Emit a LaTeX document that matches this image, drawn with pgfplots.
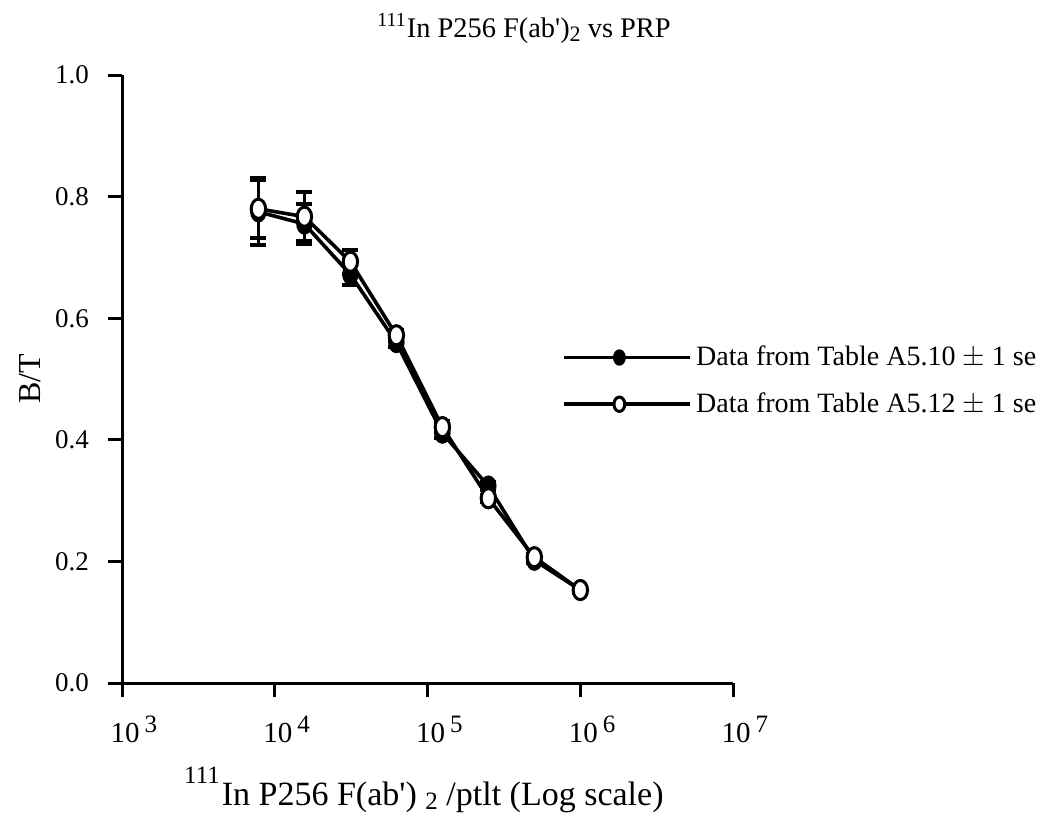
\documentclass[border=0pt]{standalone}
\usepackage{pgfplots}
\pgfplotsset{compat=1.18}
\usepackage{fontspec}
\setmainfont{Liberation Serif}
\newcommand{\tl}[1]{10\rlap{\hspace{2.5pt}\raisebox{5pt}{\fontsize{12.5}{13}\selectfont #1}}}

\begin{document}
\begin{tikzpicture}
\begin{axis}[
  scale only axis,
  width=305.5pt, height=304pt,
  xmode=log,
  xmin=1e3, xmax=1e7,
  ymin=0, ymax=1,
  axis x line=bottom, axis y line=left,
  axis line style={-, line width=1.5pt},
  tick align=outside,
  major tick length=7pt,
  every tick/.style={line width=1.5pt, black},
  xminorticks=false, yminorticks=false,
  xtick={1e3,1e4,1e5,1e6,1e7},
  xticklabels={\tl{3},\tl{4},\tl{5},\tl{6},\tl{7}},
  xticklabel style={font=\fontsize{14.5}{16}\selectfont, xshift=1.5pt, yshift=-6pt},
  ytick={0,0.2,0.4,0.6,0.8,1.0},
  yticklabels={0.0,0.2,0.4,0.6,0.8,1.0},
  yticklabel style={font=\fontsize{13.5}{16}\selectfont, xshift=-6pt},
  clip=false,
  legend style={at={(rel axis cs:0.7105,0.497)}, anchor=west, draw=none, fill=none,
    font=\fontsize{14}{16}\selectfont, row sep=8pt},
  legend cell align=left,
  legend image code/.code={
    \path (0pt,0pt) -- (63pt,0pt);
    \draw[mark repeat=2,mark phase=2,#1, line width=1.1pt, mark size=3pt] plot coordinates {(0pt,0pt) (27.5pt,0pt) (51.5pt,0pt)};},
]
\addplot+[black, line width=1.8pt, mark=*, mark size=4pt,
  mark options={solid, fill=black, line width=1pt, xscale=0.9, yscale=1.2},
  error bars/.cd, y dir=both, y explicit,
  error bar style={line width=1.5pt, black},
  error mark options={rotate=90, mark size=4pt, line width=2pt, black}]
  coordinates {
  (7812.5,0.775) +- (0,0.055)
  (15625,0.755) +- (0,0.033)
  (31250,0.672) +- (0,0.018)
  (62500,0.560) +- (0,0.008)
  (125000,0.411) +- (0,0.008)
  (250000,0.324) +- (0,0.006)
  (500000,0.202) +- (0,0.005)
  (1000000,0.153) +- (0,0.005)
  };
\addlegendentry{Data from Table A5.10 $\pm$ 1 se}
\addplot+[black, line width=1.8pt, mark=*, mark size=4pt,
  mark options={solid, fill=white, line width=1.5pt, xscale=0.9, yscale=1.2},
  error bars/.cd, y dir=both, y explicit,
  error bar style={line width=1.5pt, black},
  error mark options={rotate=90, mark size=4pt, line width=2pt, black}]
  coordinates {
  (7812.5,0.780) +- (0,0.048)
  (15625,0.767) +- (0,0.040)
  (31250,0.693) +- (0,0.020)
  (62500,0.572) +- (0,0.008)
  (125000,0.421) +- (0,0.010)
  (250000,0.304) +- (0,0.006)
  (500000,0.207) +- (0,0.005)
  (1000000,0.153) +- (0,0.005)
  };
\addlegendentry{Data from Table A5.12 $\pm$ 1 se}
\node[anchor=base, font=\fontsize{14.2}{16}\selectfont] at (rel axis cs:0.658,1.0625)
  {\textsuperscript{111}In P256 F(ab\textquotesingle)\raisebox{-0.35ex}{\fontsize{11}{11}\selectfont 2} vs PRP};
\node[anchor=base, font=\fontsize{17}{19}\selectfont] at (rel axis cs:0.494,-0.2007)
  {\raisebox{11pt}{\fontsize{12.5}{13}\selectfont 111}\hspace{1pt}In P256 F(ab\textquotesingle) \raisebox{-2pt}{\fontsize{12.5}{13}\selectfont 2} /ptlt (Log scale)};
\node[rotate=90, font=\fontsize{16}{18}\selectfont] at (rel axis cs:-0.1506,0.5) {B/T};
\path (rel axis cs:-0.1997,-0.222) rectangle (rel axis cs:1.517,1.1234);
\end{axis}
\end{tikzpicture}
\end{document}
